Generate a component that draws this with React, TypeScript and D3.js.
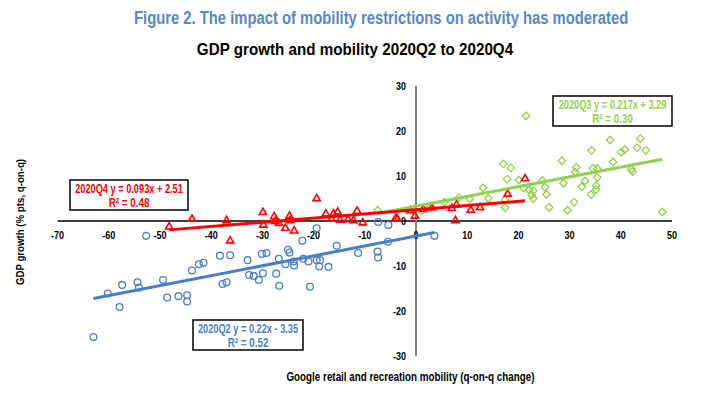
import React from "react";
import * as d3 from "d3";

// points: [mobility change, GDP growth]
const q2Points: [number, number][] = [
  [-63, -25.8], [-60.2, -16.1], [-57.9, -19.1], [-57.4, -14.2], [-54.4, -13.6], [-54.1, -14.8],
  [-52.7, -3.3], [-49.4, -13.1], [-48.6, -17], [-46.4, -16.7], [-44.7, -16.5], [-44.7, -17.9],
  [-43.75, -11], [-42.4, -9.6], [-41.5, -9.3], [-38.3, -7.7], [-37.8, -14], [-37, -13.6],
  [-36.3, -7.6], [-32.9, -8.7], [-32.6, -12], [-31.7, -12.2], [-30.7, -13.1], [-30.1, -7.3],
  [-29.9, -11.6], [-29.2, -7.1], [-27.3, -11.7], [-26.8, -8.4], [-26.7, -14.4], [-25.5, -9.6],
  [-25, -6.4], [-24.7, -7], [-23.9, -9], [-23.8, -9.9], [-22.2, -4.4], [-22, -8.4], [-21, -9],
  [-20.7, -14.6], [-19.4, -1.6], [-19.4, -8.7], [-18.9, -10.1], [-18.75, -8.7], [-17.1, -10.2],
  [-15.5, -5.5], [-11.3, -7.1], [-7.5, -6.8], [-7.4, -8.1], [-7.4, -0.2], [-5.5, -4.6],
  [-5.4, -0.9], [3.6, -3.3],
];

const q3Points: [number, number][] = [
  [-7.5, 2.4], [1.1, 2.2], [2.7, 3], [5.5, 4.2], [8.4, 5.2], [10.5, 4.9], [13.1, 7.4], [14.1, 5],
  [17.1, 12.7], [17.4, 4.7], [17.4, 3], [17.8, 9.3], [18.5, 11.8], [20.1, 9.1], [21, 7.3],
  [21.5, 23.4], [22.1, 6.9], [22.6, 5.8], [22.9, 6.7], [22.9, 5], [24.7, 9], [25.2, 7.5],
  [25.5, 5.9], [26, 3], [28.5, 13.4], [28.8, 8.4], [29.6, 2.4], [30.9, 4.2], [31.1, 10.9],
  [31.3, 11.9], [32.4, 7.6], [33, 8.9], [34.2, 5.9], [34.3, 15.7], [34.6, 11.7], [35.2, 7.9],
  [35.2, 7], [35.4, 11.6], [35.4, 9.7], [37.9, 18], [38.5, 13.1], [40.1, 15.3], [40.8, 15.9],
  [42.1, 11.5], [42.3, 11], [43.2, 16.3], [43.8, 18.3], [44.9, 15.7], [48.1, 2],
];

const q4Points: [number, number][] = [
  [-48.2, -1.3], [-43.75, 0.4], [-37, 0.1], [-36.3, -4.4], [-29.9, 1.9], [-29.8, -0.9],
  [-27.7, 1], [-27.5, -0.1], [-26.8, -0.5], [-25.5, -1.6], [-24.7, 1.1], [-24.6, 0.1],
  [-23.8, -2.2], [-19.4, 5], [-17.6, 1.6], [-16.5, 0.4], [-16.1, 1.6], [-15.3, 2], [-14.8, 0.2],
  [-13.3, 0.3], [-12.2, 0.1], [-11.5, 2.2], [-10.4, -0.4], [-3.9, 0.7], [-3.65, 0.4],
  [-1.1, 2.3], [-0.2, 1.1], [1.4, 2.6], [3.1, 2.9], [7, 2.8], [7.9, 3.6], [7.7, 0.1],
  [10.7, 2.4], [12.5, 3], [17.9, 6], [21.3, 9.4],
];

// trendline [slope, intercept]
const q2Fit = [0.22, -3.35];
const q3Fit = [0.217, 3.29];
const q4Fit = [0.093, 2.51];

const xTicks = [-70, -60, -50, -40, -30, -20, -10, 0, 10, 20, 30, 40, 50];
const yTicks = [-30, -20, -10, 0, 10, 20, 30];

const BLUE = "#4a7fc8";
const GREEN = "#92d050";
const RED = "#ff0000";
const FONT = "'Liberation Sans', Arial, sans-serif";

const x = d3.scaleLinear().domain([-70, 50]).range([57.6, 672]);
const y = d3.scaleLinear().domain([-30, 30]).range([356, 86]);

const line = d3
  .line<[number, number]>()
  .x((d) => x(d[0]))
  .y((d) => y(d[1]));

const fitLine = (pts: [number, number][], fit: number[]) => {
  const [lo, hi] = d3.extent(pts, (d) => d[0]) as [number, number];
  return line([
    [lo, fit[0] * lo + fit[1]],
    [hi, fit[0] * hi + fit[1]],
  ]);
};

const diamond = d3.symbol().type(d3.symbolDiamond2).size(36)();
const triangle = d3.symbol().type(d3.symbolTriangle2).size(38)();

// bold text squeezed sideways (no Arial Narrow installed)
const T = ({ x, y, size, anchor = "middle", fill = "#000", rotate = 0, sx = 0.82, children }: any) => (
  <text
    transform={`translate(${x},${y}) rotate(${rotate}) scale(${sx},1)`}
    textAnchor={anchor}
    fontSize={size}
    fontWeight="bold"
    fill={fill}
  >
    {children}
  </text>
);

export default function App() {
  return (
    <div style={{ position: "absolute", left: 0, top: 0 }}>
      <svg width={711} height={395} style={{ display: "block", fontFamily: FONT }}>
        <rect width={711} height={395} fill="#fff" />
        <T x={134} y={24} size={19} fill="#5a87c6" sx={0.78} anchor="start">
          Figure 2. The impact of mobility restrictions on activity has moderated
        </T>
        <T x={355} y={55} size={16} sx={0.95}>
          GDP growth and mobility 2020Q2 to 2020Q4
        </T>

        {/* axes */}
        <line x1={x(-70)} x2={x(50)} y1={y(0)} y2={y(0)} stroke="#000" strokeWidth={1.5} />
        <line x1={x(0)} x2={x(0)} y1={y(30)} y2={y(-30)} stroke="#7f7f7f" strokeWidth={2} />
        {xTicks.map((t) => (
          <T key={"x" + t} x={x(t)} y={y(0) + 18} size={11}>
            {t}
          </T>
        ))}
        {yTicks.map((t) => (
          <T key={"y" + t} x={x(0) - 10} y={y(t) + 4} size={11} anchor="end">
            {t}
          </T>
        ))}
        <T x={410.5} y={381} size={12}>
          Google retail and recreation mobility (q-on-q change)
        </T>
        <T x={24} y={222} size={11} rotate={-90} sx={0.88}>
          GDP growth (% pts, q-on-q)
        </T>

        {/* points */}
        {q2Points.map((d, i) => (
          <circle key={"a" + i} cx={x(d[0])} cy={y(d[1])} r={3.4} fill="none" stroke={BLUE} strokeWidth={1.3} />
        ))}
        {q3Points.map((d, i) => (
          <path key={"b" + i} d={diamond} transform={`translate(${x(d[0])},${y(d[1])})`} fill="none" stroke={GREEN} strokeWidth={1.3} />
        ))}
        {q4Points.map((d, i) => (
          <path key={"c" + i} d={triangle} transform={`translate(${x(d[0])},${y(d[1])})`} fill="none" stroke={RED} strokeWidth={1.6} />
        ))}

        {/* trendlines */}
        <path d={fitLine(q2Points, q2Fit)} stroke={BLUE} strokeWidth={3} fill="none" />
        <path d={fitLine(q3Points, q3Fit)} stroke={GREEN} strokeWidth={3} fill="none" />
        <path d={fitLine(q4Points, q4Fit)} stroke={RED} strokeWidth={3} fill="none" />

        {/* regression labels */}
        <g>
          <rect x={553} y={96} width={119} height={30} fill="#fff" stroke="#000" strokeWidth={1.5} />
          <T x={612.5} y={109} size={12} fill={GREEN} sx={0.77}>2020Q3 y = 0.217x + 3.29</T>
          <T x={612.5} y={122.5} size={12} fill={GREEN}>R² = 0.30</T>
        </g>
        <g>
          <rect x={70} y={180} width={118} height={30} fill="#fff" stroke="#000" strokeWidth={1.5} />
          <T x={129} y={193} size={12} fill={RED} sx={0.77}>2020Q4 y = 0.093x + 2.51</T>
          <T x={129} y={206.5} size={12} fill={RED}>R² = 0.48</T>
        </g>
        <g>
          <rect x={193} y={320} width={110} height={30} fill="#fff" stroke="#000" strokeWidth={1.5} />
          <T x={248} y={333} size={12} fill={BLUE} sx={0.77}>2020Q2 y = 0.22x - 3.35</T>
          <T x={248} y={346.5} size={12} fill={BLUE}>R² = 0.52</T>
        </g>
      </svg>
    </div>
  );
}
